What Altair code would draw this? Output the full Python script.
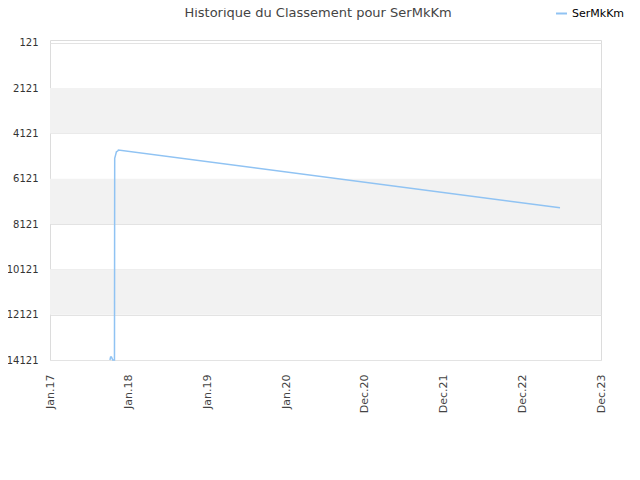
import altair as alt
import pandas as pd

# ---- data ----
series_name = "SerMkKm"
dates = ["2017-10-06", "2017-10-09", "2017-10-13", "2017-10-19", "2017-10-27",
         "2017-10-28", "2017-11-01", "2017-11-05", "2017-11-11", "2017-11-14",
         "2023-06-24"]
ranks = [14121, 13990, 13990, 14121, 14121, 5220, 5080, 4930, 4900, 4854, 7400]

y_ticks = [121, 2121, 4121, 6121, 8121, 10121, 12121, 14121]
x_tick_dates = ["2017-01-01", "2018-01-01", "2019-01-01", "2020-01-01",
                "2020-12-31", "2021-12-31", "2022-12-31", "2023-12-31"]
x_domain = ["2017-01-01", "2023-12-31"]
y_domain = [0, 14121]
title_text = "Historique du Classement pour SerMkKm"

df = pd.DataFrame({"date": dates, "rank": ranks, "series": series_name})

# alternating grey bands between tick values
bands = pd.DataFrame({
    "y": [y_ticks[i] for i in range(1, len(y_ticks) - 1, 2)],
    "y2": [y_ticks[i + 1] for i in range(1, len(y_ticks) - 1, 2)],
})


def dt(s):
    t = pd.Timestamp(s)
    return alt.DateTime(year=t.year, month=t.month, date=t.day, utc=True)


x_scale = alt.Scale(type="utc", domain=[dt(d) for d in x_domain])
y_scale = alt.Scale(domain=y_domain, reverse=True, zero=False, nice=False)

band_layer = alt.Chart(bands).mark_rect(color="#f2f2f2").encode(
    y=alt.Y("y:Q", scale=y_scale),
    y2="y2:Q",
)

line = alt.Chart(df).mark_line(strokeWidth=1.5, interpolate="linear").encode(
    x=alt.X("date:T", scale=x_scale, title=None,
            axis=alt.Axis(values=[dt(d) for d in x_tick_dates],
                          labelExpr="utcFormat(datum.value, '%b.%y')",
                          labelAngle=270, labelPadding=14, ticks=False,
                          domain=False, grid=False, labelColor="#444",
                          labelFont="DejaVu Sans", labelFontSize=11)),
    y=alt.Y("rank:Q", scale=y_scale, title=None,
            axis=alt.Axis(values=y_ticks, format="d", ticks=False, domain=False,
                          grid=True, gridColor="#e3e3e3", labelColor="#333",
                          labelFont="DejaVu Sans", labelFontSize=10,
                          labelPadding=12)),
    color=alt.Color("series:N", scale=alt.Scale(range=["#90c3f3"]),
                    legend=alt.Legend(title=None, orient="none", legendX=505,
                                      legendY=-33, symbolType="stroke",
                                      symbolStrokeWidth=2, symbolSize=120,
                                      padding=0, labelFont="DejaVu Sans",
                                      labelFontSize=11, labelColor="#000")),
)

title_layer = alt.Chart(pd.DataFrame({"t": [title_text]})).mark_text(
    font="DejaVu Sans", fontSize=13, color="#444", align="center",
    baseline="alphabetic").encode(
    text="t:N", x=alt.value(268), y=alt.value(-23))

chart = alt.layer(band_layer, line, title_layer).properties(
    width=551,
    height=320,
    autosize=alt.AutoSizeParams(type="none"),
    padding={"left": 42, "top": 32, "right": 30, "bottom": 100},
).configure_view(stroke="#dcdcdc", strokeWidth=1)

chart.save("out.html", embed_options={"renderer": "svg", "actions": False})
